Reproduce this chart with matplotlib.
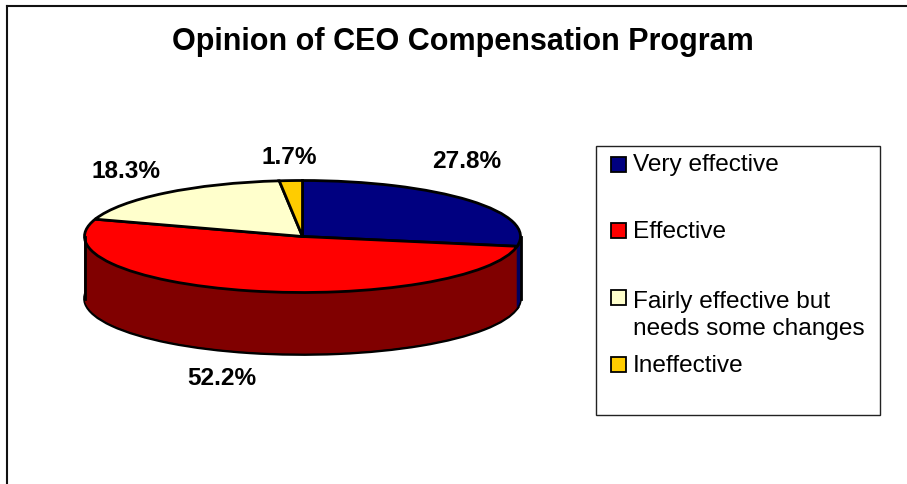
import matplotlib
matplotlib.use('Agg')
import matplotlib.pyplot as plt
from matplotlib.patches import Rectangle

plt.rcParams['font.family'] = ['Liberation Sans', 'DejaVu Sans']

# Data
categories = ['Very effective', 'Effective', 'Fairly effective but\nneeds some changes', 'Ineffective']
values = [27.8, 52.2, 18.3, 1.7]
value_labels = ['27.8%', '52.2%', '18.3%', '1.7%']
top_colors = ['#000080', '#FF0000', '#FFFFCC', '#FFCC00']
side_colors = ['#000060', '#800000', '#808066', '#806600']

W, H = 907, 485
fig = plt.figure(figsize=(W / 100, H / 100), dpi=100)

# overlay in pixel coordinates for frame, title, labels and legend
over = fig.add_axes([0, 0, 1, 1], zorder=3)
over.set_xlim(0, W)
over.set_ylim(H, 0)
over.axis('off')
over.patch.set_alpha(0)

# pie axes: x range -1..1 is the ellipse width, y is squashed so it looks tilted
cx, cy, rx, ry, depth = 302.5, 237.5, 218, 56, 62
ax = fig.add_axes([(cx - rx) / W, 1 - (cy + ry + depth) / H, 2 * rx / W, (2 * ry + depth) / H])
d = depth / ry

# side wall: stack of dark pies, one pixel apart
for i in range(depth + 1):
    off = -d * (1 - i / depth)
    wedges, _ = ax.pie(values, colors=side_colors, startangle=90, counterclock=False,
                       center=(0, off), radius=1, frame=True)
    for w in wedges:
        w.set_clip_on(False)
        if i == 0:
            w.set_edgecolor('black')
            w.set_linewidth(2)
ax.plot([-1, -1], [0, -d], color='black', lw=2, clip_on=False)
ax.plot([1, 1], [0, -d], color='black', lw=2, clip_on=False)

# top face
wedges, _ = ax.pie(values, colors=top_colors, startangle=90, counterclock=False,
                   radius=1, frame=True, wedgeprops=dict(edgecolor='black', linewidth=2))
for w in wedges:
    w.set_clip_on(False)
ax.set_aspect('auto')
ax.set_xlim(-1, 1)
ax.set_ylim(-1 - d, 1)
ax.axis('off')

# chart frame, only top and left show in the picture
over.plot([6.5, W], [6.5, 6.5], color='#111111', lw=1.5)
over.plot([6.5, 6.5], [6.5, H], color='#111111', lw=1.5)

over.text(463, 42, 'Opinion of CEO Compensation Program', ha='center', va='center',
          fontsize=22, fontweight='bold')

fs = 17.6
label_pos = [(467, 168), (222, 385), (126, 178), (289, 164)]
for lab, (x, y) in zip(value_labels, label_pos):
    over.text(x, y, lab, ha='center', va='baseline', fontsize=fs, fontweight='bold')

# legend
over.add_patch(Rectangle((595.5, 146.5), 284, 270, facecolor='white', edgecolor='#222222', lw=1))
for i, (cat, col) in enumerate(zip(categories, top_colors)):
    y0 = 157.5 + 66.9 * i
    over.add_patch(Rectangle((610.5, y0), 15, 15, facecolor=col, edgecolor='black', lw=1.3))
    # multi-line text sits on its last baseline
    over.text(633, y0 + 13.5 + 30 * cat.count('\n'), cat, ha='left', va='baseline',
              fontsize=fs, linespacing=1.3)

fig.savefig('out.png', dpi=100)
